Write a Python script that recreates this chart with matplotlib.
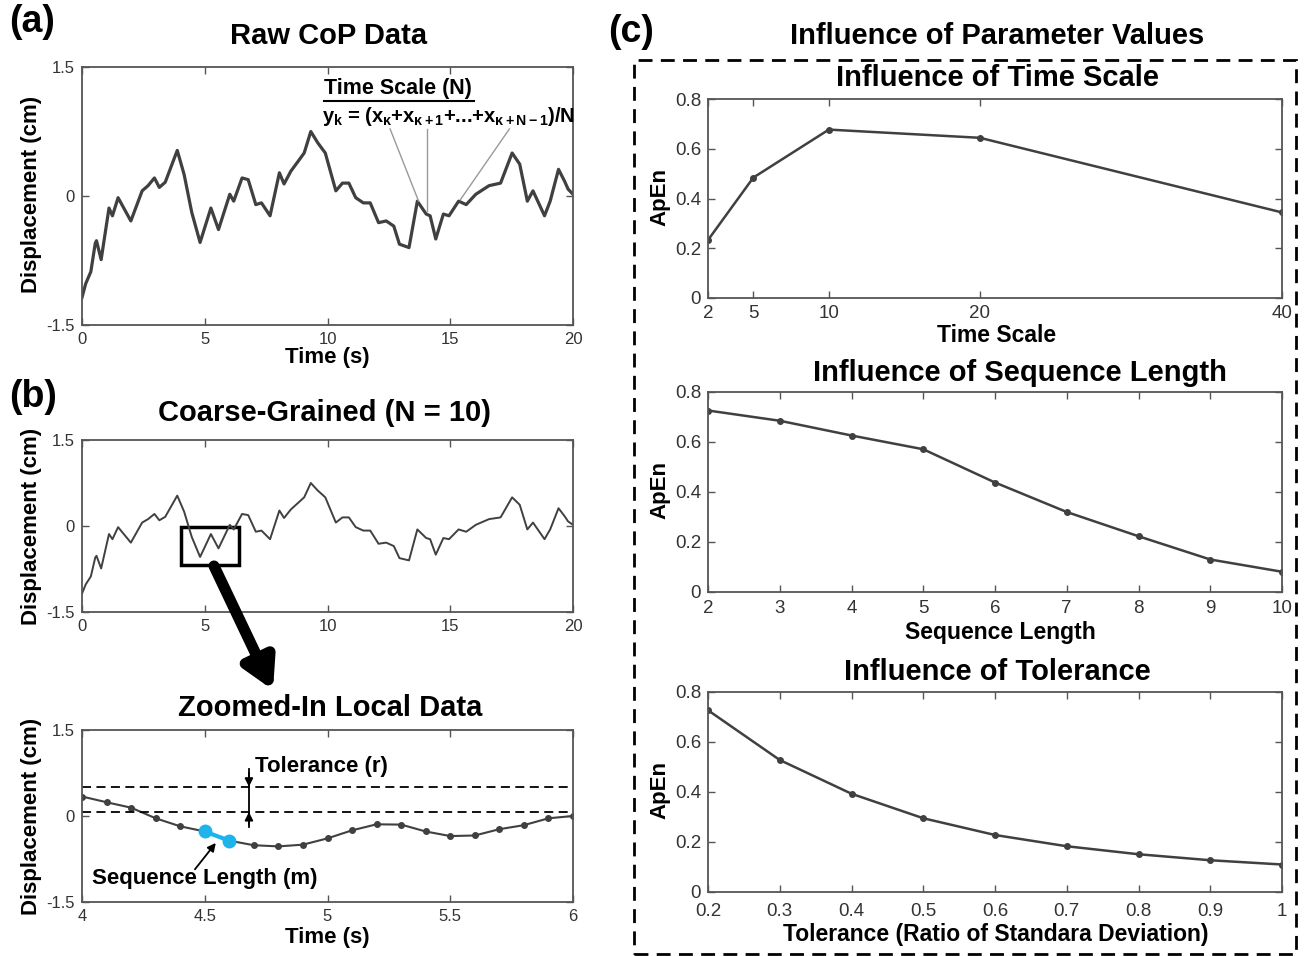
import numpy as np
import matplotlib.pyplot as plt
from matplotlib.patches import Rectangle, FancyArrowPatch

plt.rcParams['font.family'] = ['Liberation Sans', 'DejaVu Sans']
plt.rcParams['mathtext.fontset'] = 'custom'
plt.rcParams['mathtext.rm'] = 'Liberation Sans:bold'
plt.rcParams['mathtext.it'] = 'Liberation Sans:bold'
plt.rcParams['mathtext.bf'] = 'Liberation Sans:bold'

W, H = 1304, 956
TICK_FONT = ['Liberation Sans Narrow', 'Liberation Sans']
LINE_C = '#404040'

# CoP displacement trace (time s, cm)
cop_t = [0.0, 0.15, 0.36, 0.54, 0.59, 0.78, 1.10, 1.24, 1.47, 1.99, 2.45, 2.69, 2.95,
         3.15, 3.39, 3.88, 4.16, 4.47, 4.81, 5.25, 5.56, 6.02, 6.18, 6.52, 6.77,
         7.08, 7.31, 7.66, 8.04, 8.23, 8.51, 8.82, 9.05, 9.32, 9.60, 9.91, 10.34,
         10.61, 10.87, 11.15, 11.46, 11.74, 12.08, 12.39, 12.70, 12.93, 13.32,
         13.66, 14.02, 14.18, 14.41, 14.72, 14.95, 15.34, 15.65, 16.04, 16.58,
         17.05, 17.52, 17.83, 18.14, 18.37, 18.84, 19.07, 19.41, 19.66, 19.80, 20.0]
cop_y = [-1.18, -1.02, -0.88, -0.55, -0.52, -0.74, -0.14, -0.23, -0.02, -0.29, 0.06, 0.12, 0.21,
         0.10, 0.16, 0.53, 0.25, -0.19, -0.54, -0.14, -0.39, 0.02, -0.06, 0.21, 0.19,
         -0.10, -0.08, -0.23, 0.27, 0.14, 0.29, 0.41, 0.50, 0.75, 0.62, 0.50, 0.06,
         0.15, 0.15, -0.02, -0.08, -0.08, -0.31, -0.29, -0.35, -0.56, -0.60,
         -0.06, -0.21, -0.23, -0.50, -0.21, -0.23, -0.06, -0.10, 0.02, 0.12,
         0.15, 0.50, 0.37, -0.06, 0.06, -0.23, -0.06, 0.31, 0.17, 0.08, 0.02]

# coarse-grained samples between 4 and 6 s
zoom_t = [4.0, 4.1, 4.2, 4.3, 4.4, 4.5, 4.6, 4.7, 4.8, 4.9, 5.0,
          5.1, 5.2, 5.3, 5.4, 5.5, 5.6, 5.7, 5.8, 5.9, 6.0]
zoom_y = [0.34, 0.24, 0.145, -0.04, -0.18, -0.27, -0.43, -0.51, -0.53, -0.50, -0.39,
          -0.25, -0.145, -0.15, -0.27, -0.35, -0.34, -0.23, -0.16, -0.04, 0.0]
seq_pair = [5, 6]          # highlighted m-length template (4.5 s, 4.6 s)
tol_lines = [0.51, 0.07]

scale_x = [2, 5, 10, 20, 40]
scale_apen = [0.233, 0.484, 0.677, 0.644, 0.344]
seq_x = [2, 3, 4, 5, 6, 7, 8, 9, 10]
seq_apen = [0.726, 0.685, 0.626, 0.571, 0.438, 0.320, 0.223, 0.130, 0.081]
tol_x = [0.2, 0.3, 0.4, 0.5, 0.6, 0.7, 0.8, 0.9, 1.0]
tol_apen = [0.727, 0.528, 0.393, 0.295, 0.228, 0.183, 0.151, 0.127, 0.110]


def px_ax(fig, x0, y0, x1, y1):
    return fig.add_axes([x0 / W, 1 - y1 / H, (x1 - x0) / W, (y1 - y0) / H])


def style(ax, size=12, xpad=5):
    for s in ax.spines.values():
        s.set_color('#555555')
        s.set_linewidth(1.3)
    ax.tick_params(direction='in', top=True, right=True, length=5, width=1,
                   color='#555555', labelcolor='#333333', labelsize=size, pad=5)
    ax.tick_params(axis='x', pad=xpad)
    for lab in ax.get_xticklabels() + ax.get_yticklabels():
        lab.set_family(TICK_FONT)


def ftext(fig, x, y, s, size=15, rot=0, **kw):
    fig.text(x / W, 1 - y / H, s, fontsize=size, fontweight='bold', rotation=rot,
             ha='center', va='center', **kw)


fig = plt.figure(figsize=(W / 100, H / 100), dpi=100)

# (a) raw data
ax_a = px_ax(fig, 82, 67, 573, 325)
ax_a.plot(cop_t, cop_y, color=LINE_C, lw=2.3)
ax_a.set_xlim(0, 20)
ax_a.set_ylim(-1.5, 1.5)
ax_a.set_xticks([0, 5, 10, 15, 20])
ax_a.set_yticks([-1.5, 0, 1.5])
ax_a.set_yticklabels(['-1.5', '0', '1.5'])
style(ax_a)
ax_a.text(12.85, 1.25, 'Time Scale (N)', ha='center', va='center', fontsize=15.5, fontweight='bold')
ax_a.plot([9.85, 15.95], [1.11, 1.11], color='k', lw=1.5)
ax_a.text(14.95, 0.93, r'$y_k$ = ($x_\kappa$+$x_{\kappa+1}$+...+$x_{\kappa+N-1}$)/N',
          ha='center', va='center', fontsize=14.5, fontweight='bold')
for (x0, y0, x1, y1) in [(12.55, 0.78, 13.71, -0.06), (14.05, 0.78, 14.05, -0.17),
                         (17.41, 0.78, 15.42, -0.04)]:
    ax_a.plot([x0, x1], [y0, y1], color='#999999', lw=1)

# (b) coarse-grained
ax_b = px_ax(fig, 82, 440, 573, 612)
ax_b.plot(cop_t, cop_y, color=LINE_C, lw=1.4)
ax_b.set_xlim(0, 20)
ax_b.set_ylim(-1.5, 1.5)
ax_b.set_xticks([0, 5, 10, 15, 20])
ax_b.set_yticks([-1.5, 0, 1.5])
ax_b.set_yticklabels(['-1.5', '0', '1.5'])
style(ax_b)
ax_b.add_patch(Rectangle((4.02, -0.68), 2.36, 0.66, fill=False, ec='k', lw=2.5))

fig.add_artist(FancyArrowPatch((214 / W, 1 - 566 / H), (273 / W, 1 - 690 / H),
                               transform=fig.transFigure, color='k', lw=8,
                               arrowstyle='-|>,head_length=0.8,head_width=0.45',
                               mutation_scale=22, shrinkA=0, shrinkB=0))

# zoomed-in local data
ax_z = px_ax(fig, 82, 730, 573, 902)
ax_z.plot(zoom_t, zoom_y, color=LINE_C, lw=1.5, marker='o', ms=4)
hx = [zoom_t[i] for i in seq_pair]
hy = [zoom_y[i] for i in seq_pair]
ax_z.plot(hx, hy, color='#1cb4ea', lw=3, marker='o', ms=9)
for yv in tol_lines:
    ax_z.axhline(yv, color='k', lw=1.3, ls=(0, (5, 3)))
ax_z.plot([4.68, 4.68], [0.82, -0.2], color='k', lw=1.3)
ax_z.annotate('', xy=(4.68, tol_lines[0]), xytext=(4.68, 0.75),
              arrowprops=dict(arrowstyle='-|>', color='k', lw=1.3, mutation_scale=12,
                              shrinkA=0, shrinkB=0))
ax_z.annotate('', xy=(4.68, tol_lines[1]), xytext=(4.68, -0.15),
              arrowprops=dict(arrowstyle='-|>', color='k', lw=1.3, mutation_scale=12,
                              shrinkA=0, shrinkB=0))
ax_z.text(4.705, 0.86, 'Tolerance (r)', ha='left', va='center', fontsize=16, fontweight='bold')
ax_z.text(4.04, -1.09, 'Sequence Length (m)', ha='left', va='center', fontsize=16, fontweight='bold')
ax_z.annotate('', xy=(4.545, -0.47), xytext=(4.46, -0.93),
              arrowprops=dict(arrowstyle='-|>', color='k', lw=1.3, mutation_scale=12,
                              shrinkA=0, shrinkB=0))
ax_z.set_xlim(4, 6)
ax_z.set_ylim(-1.5, 1.5)
ax_z.set_xticks([4, 4.5, 5, 5.5, 6])
ax_z.set_xticklabels(['4', '4.5', '5', '5.5', '6'])
ax_z.set_yticks([-1.5, 0, 1.5])
ax_z.set_yticklabels(['-1.5', '0', '1.5'])
style(ax_z)

# (c) parameter influence
ax1 = px_ax(fig, 708, 99, 1282, 298)
ax1.plot(scale_x, scale_apen, color=LINE_C, lw=1.8, marker='o', ms=4)
ax1.set_xlim(2, 40)
ax1.set_xticks(scale_x)
ax2 = px_ax(fig, 708, 392, 1282, 592)
ax2.plot(seq_x, seq_apen, color=LINE_C, lw=1.8, marker='o', ms=4)
ax2.set_xlim(2, 10)
ax2.set_xticks(seq_x)
ax3 = px_ax(fig, 708, 692, 1282, 892)
ax3.plot(tol_x, tol_apen, color=LINE_C, lw=1.8, marker='o', ms=4)
ax3.set_xlim(0.2, 1.0)
ax3.set_xticks(tol_x)
ax3.set_xticklabels(['0.2', '0.3', '0.4', '0.5', '0.6', '0.7', '0.8', '0.9', '1'])
for ax, pad in ((ax1, 5), (ax2, 6), (ax3, 8)):
    ax.set_ylim(0, 0.8)
    ax.set_yticks([0, 0.2, 0.4, 0.6, 0.8])
    ax.set_yticklabels(['0', '0.2', '0.4', '0.6', '0.8'])
    style(ax, size=13.5, xpad=pad)

fig.add_artist(Rectangle((634 / W, 1 - 954 / H), 662 / W, 894 / H, fill=False,
                         ec='k', lw=2, ls=(0, (5, 3)), transform=fig.transFigure))

# texts
ftext(fig, 32, 22, '(a)', size=27)
ftext(fig, 329, 36, 'Raw CoP Data', size=21)
ftext(fig, 32, 194, 'Displacement (cm)', size=16, rot=90)
ftext(fig, 327, 358, 'Time (s)', size=16)
ftext(fig, 33, 397, '(b)', size=27)
ftext(fig, 325, 413, 'Coarse-Grained (N = 10)', size=21)
ftext(fig, 32, 526, 'Displacement (cm)', size=16, rot=90)
ftext(fig, 330, 708, 'Zoomed-In Local Data', size=21)
ftext(fig, 32, 816, 'Displacement (cm)', size=16, rot=90)
ftext(fig, 327, 938, 'Time (s)', size=16)
ftext(fig, 631, 32, '(c)', size=27)
ftext(fig, 997, 36, 'Influence of Parameter Values', size=21)
ftext(fig, 997, 78, 'Influence of Time Scale', size=21)
ftext(fig, 660, 197, 'ApEn', size=16, rot=90)
ftext(fig, 997, 335, 'Time Scale', size=16.5)
ftext(fig, 1020, 373, 'Influence of Sequence Length', size=21)
ftext(fig, 660, 490, 'ApEn', size=16, rot=90)
ftext(fig, 1000, 633, 'Sequence Length', size=16.5)
ftext(fig, 997, 672, 'Influence of Tolerance', size=21)
ftext(fig, 660, 790, 'ApEn', size=16, rot=90)
ftext(fig, 996, 934, 'Tolerance (Ratio of Standara Deviation)', size=16.5)

fig.savefig('out.png', dpi=100)
